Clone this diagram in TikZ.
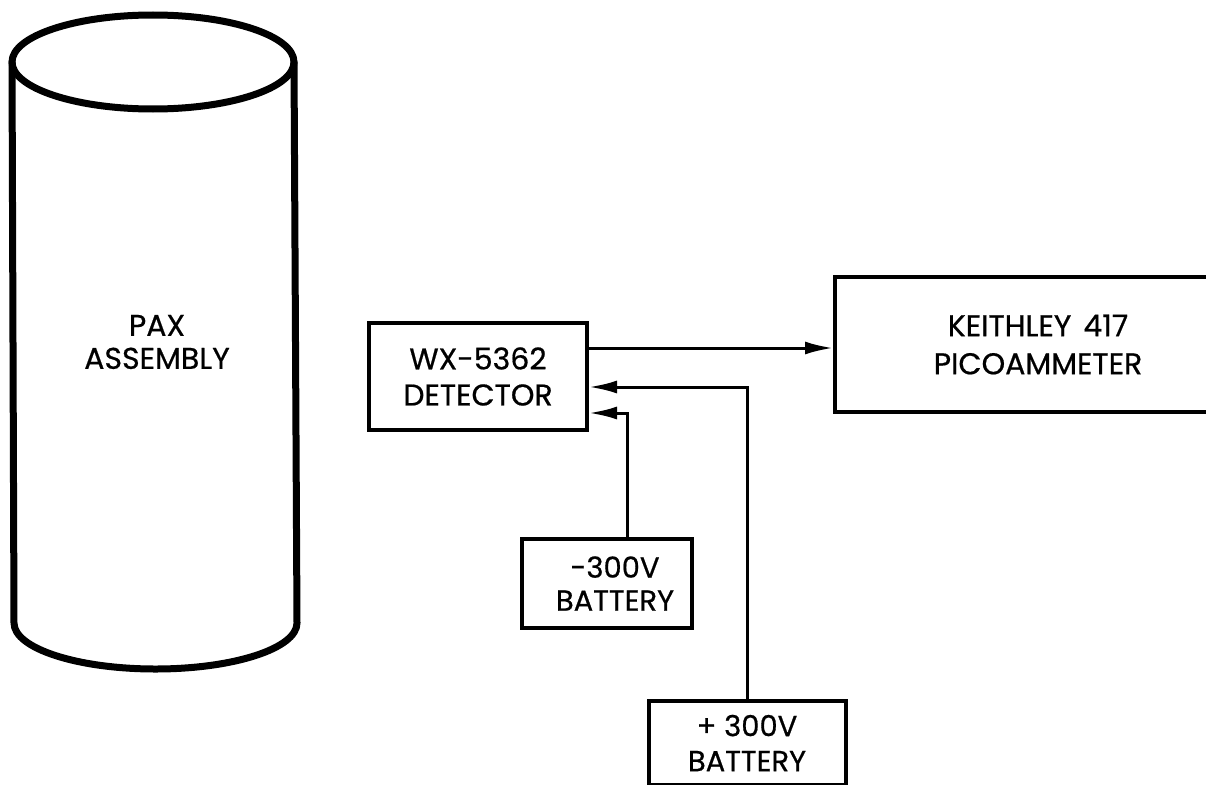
\documentclass[tikz,border=0pt]{standalone}
\usepackage{fontspec}
\newfontfamily\lab{Poppins}[FakeBold=0.6]
\usetikzlibrary{arrows.meta}
\tikzset{
  blk/.style={draw, line width=4pt, rectangle, inner sep=0pt, align=center,
    font=\lab\fontsize{30}{36}\selectfont},
  conn/.style={line width=3pt},
  arr/.style={conn, -{Latex[length=28pt,width=13pt]}},
  cyl/.style={line width=7pt, line join=round, line cap=round},
  lbl/.style={align=center, font=\lab\fontsize{30}{33}\selectfont}
}
\begin{document}
\begin{tikzpicture}[x=1pt,y=-1pt]
\useasboundingbox (0,0) rectangle (1206,784);
\clip (0,0) rectangle (1206,784);
\fill[white] (0,0) rectangle (1206,784);
% cylinder
\draw[cyl] (153,62) ellipse [x radius=141, y radius=47];
\draw[cyl] (12,62) -- (14,623) arc [start angle=180, end angle=0, x radius=141.5, y radius=46] -- (294,62);
\node[lbl] (pax) at (157,342) {PAX\\ASSEMBLY};
% blocks
\node[blk, minimum width=218pt, minimum height=107pt] (det) at (478,376.5) {WX-5362\\DETECTOR};
\node[blk, minimum width=406pt, minimum height=135pt, font=\lab\fontsize{30}{38}\selectfont] (keith) at (1038,344.5) {KEITHLEY\hspace{12pt}417\\PICOAMMETER};
\node[blk, minimum width=170pt, minimum height=89pt, font=\lab\fontsize{29}{33}\selectfont] (neg) at (607,583.5) {\hspace*{16pt}-300V\\\hspace*{16pt}BATTERY};
\node[blk, minimum width=197pt, minimum height=84pt, font=\lab\fontsize{29}{35}\selectfont] (pos) at (747,743) {+ 300V\\BATTERY};
% connectors
\coordinate (o1) at (587,348);
\coordinate (p1) at (747,387);
\coordinate (n1) at (627,413);
\draw[arr] (det.east |- o1) -- (keith.west |- o1);
\draw[arr] (pos.north -| p1) |- (det.east |- p1);
\draw[arr] (neg.north -| n1) |- (det.east |- n1);
\end{tikzpicture}
\end{document}
